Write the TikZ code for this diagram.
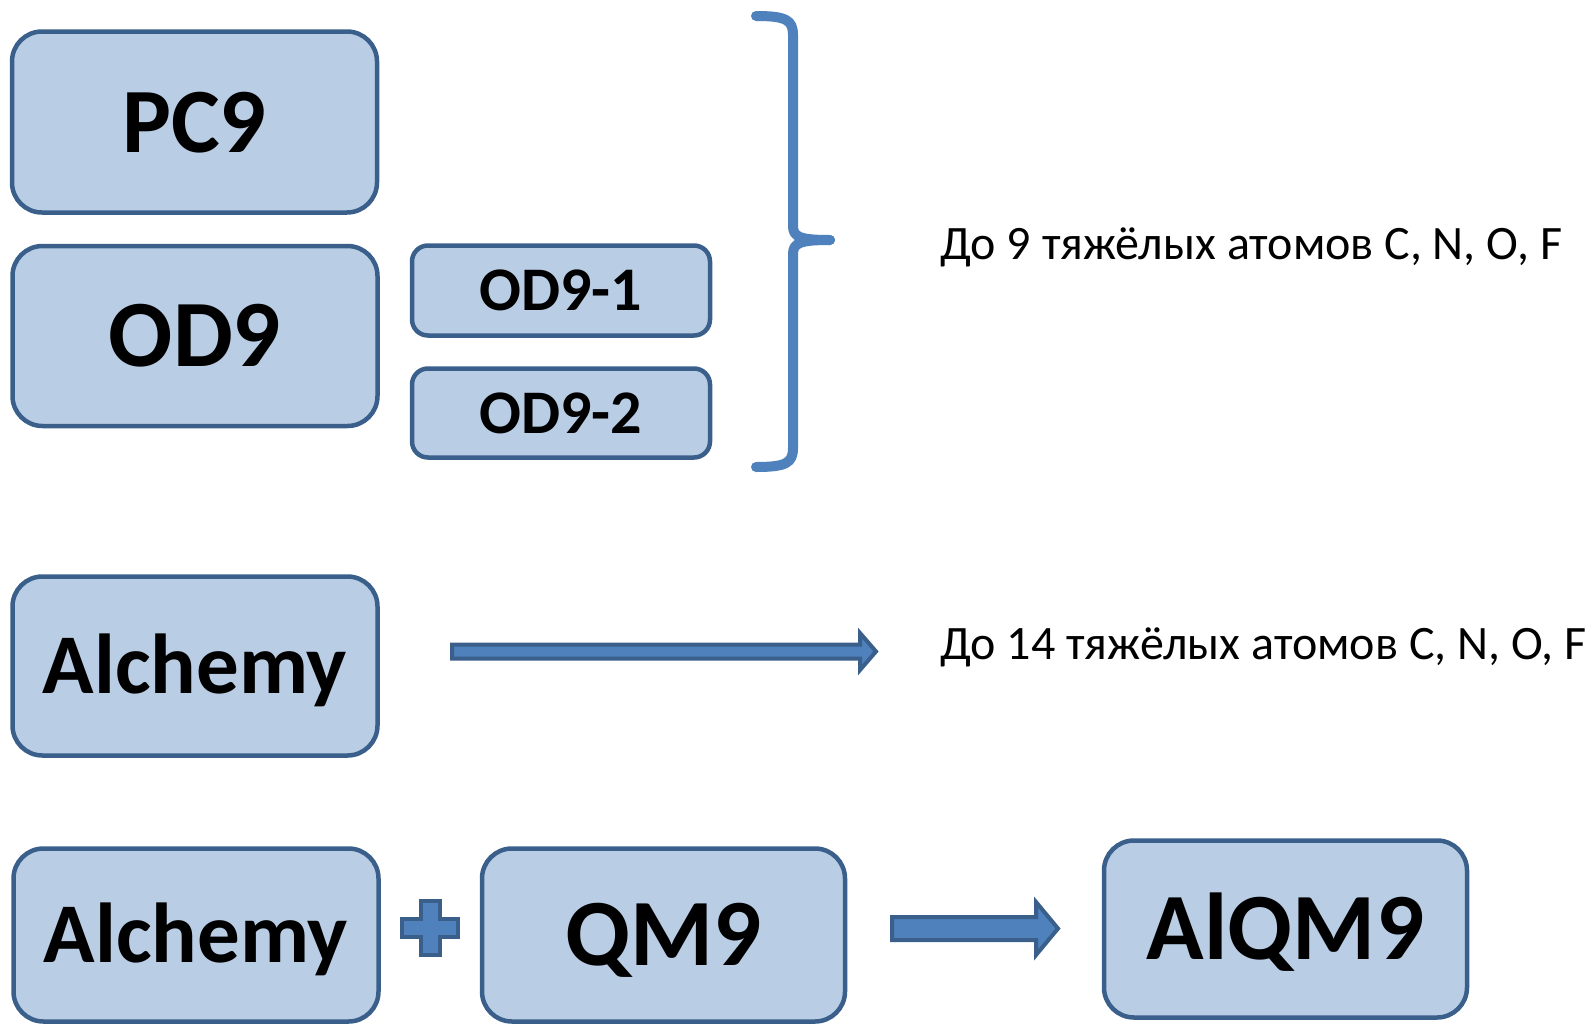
\documentclass[tikz,border=0pt]{standalone}
\usepackage{fontspec}
\setmainfont{Carlito}
\definecolor{boxfill}{HTML}{B9CDE5}
\definecolor{boxline}{HTML}{3A5F8B}
\definecolor{accent}{HTML}{4F81BD}
\newcommand{\boxfont}[1]{\bfseries\fontsize{#1}{#1}\selectfont}
\begin{document}
\begin{tikzpicture}[x=1pt,y=-1pt,
  bigbox/.style={draw=boxline, fill=boxfill, line width=4.5pt, rounded corners=30pt,
    minimum width=365pt, minimum height=181pt, inner sep=0pt,
    text height=60pt, text depth=0pt,
    font=\boxfont{94}},
  smallbox/.style={draw=boxline, fill=boxfill, line width=4.5pt, rounded corners=16pt,
    minimum width=298pt, minimum height=90pt, inner sep=0pt,
    text height=40pt, text depth=0pt,
    font=\boxfont{62}},
  notetext/.style={anchor=west, inner sep=0pt, text height=31pt, text depth=0pt,
    font=\fontsize{48}{54}\selectfont},
  blockarrow/.style={draw=boxline, fill=accent, line width=4pt, line join=miter},
  bracestyle/.style={draw=accent, line width=10pt, line cap=round, line join=round}]

\useasboundingbox (0,0) rectangle (1593,1026);

% top group
\node[bigbox, font=\boxfont{92}] (pc9) at (194.5,122) {PC9};
\node[bigbox, minimum height=180pt, font=\boxfont{95}] (od9) at (195,336) {OD9};
\node[smallbox] (od91) at (561,290.5) {OD9-1};
\node[smallbox, minimum height=89pt] (od92) at (561,413) {OD9-2};

% brace
\coordinate (bt) at (756,16);
\coordinate (bm) at (830,240);
\coordinate (bb) at (756,467);
\draw[bracestyle] (bt) .. controls (786,16) and (793,20) .. (793,35) -- (793,226)
  .. controls (793,237) and (800,240) .. (bm);
\draw[bracestyle] (bm) .. controls (800,240) and (793,243) .. (793,254) -- (793,448)
  .. controls (793,463) and (786,467) .. (bb);

\node[notetext] (note1) at (940,244) {До 9 тяжёлых атомов C, N, O, F};

% middle row
\node[bigbox, minimum height=179pt, font=\boxfont{85}, text height=55pt] (alch1) at (195,666) {Alchemy};
\coordinate (a1t) at (876,651.5);
\draw[blockarrow] (452,644.5) -- (860,644.5) -- (860,633) -- (a1t) -- (860,670)
  -- (860,658.5) -- (452,658.5) -- cycle;
\node[notetext] (note2) at (940,644) {До 14 тяжёлых атомов C, N, O, F};

% bottom row
\node[bigbox, minimum height=173pt, font=\boxfont{85}, text height=55pt] (alch2) at (196,935) {Alchemy};
\node[bigbox, minimum height=173pt, minimum width=363pt, font=\boxfont{95}] (qm9) at (663.5,935) {QM9};
\node[bigbox, minimum height=177pt, minimum width=363pt, font=\boxfont{95}] (alqm9) at (1285.5,929) {AlQM9};

% plus sign
\draw[blockarrow] (421,901) -- (440,901) -- (440,919) -- (458,919) -- (458,937)
  -- (440,937) -- (440,955) -- (421,955) -- (421,937) -- (402,937) -- (402,919)
  -- (421,919) -- cycle;

% arrow to AlQM9
\coordinate (a2t) at (1058,928.5);
\draw[blockarrow] (892,917) -- (1036,917) -- (1036,902) -- (a2t) -- (1036,955)
  -- (1036,940) -- (892,940) -- cycle;
\end{tikzpicture}
\end{document}
